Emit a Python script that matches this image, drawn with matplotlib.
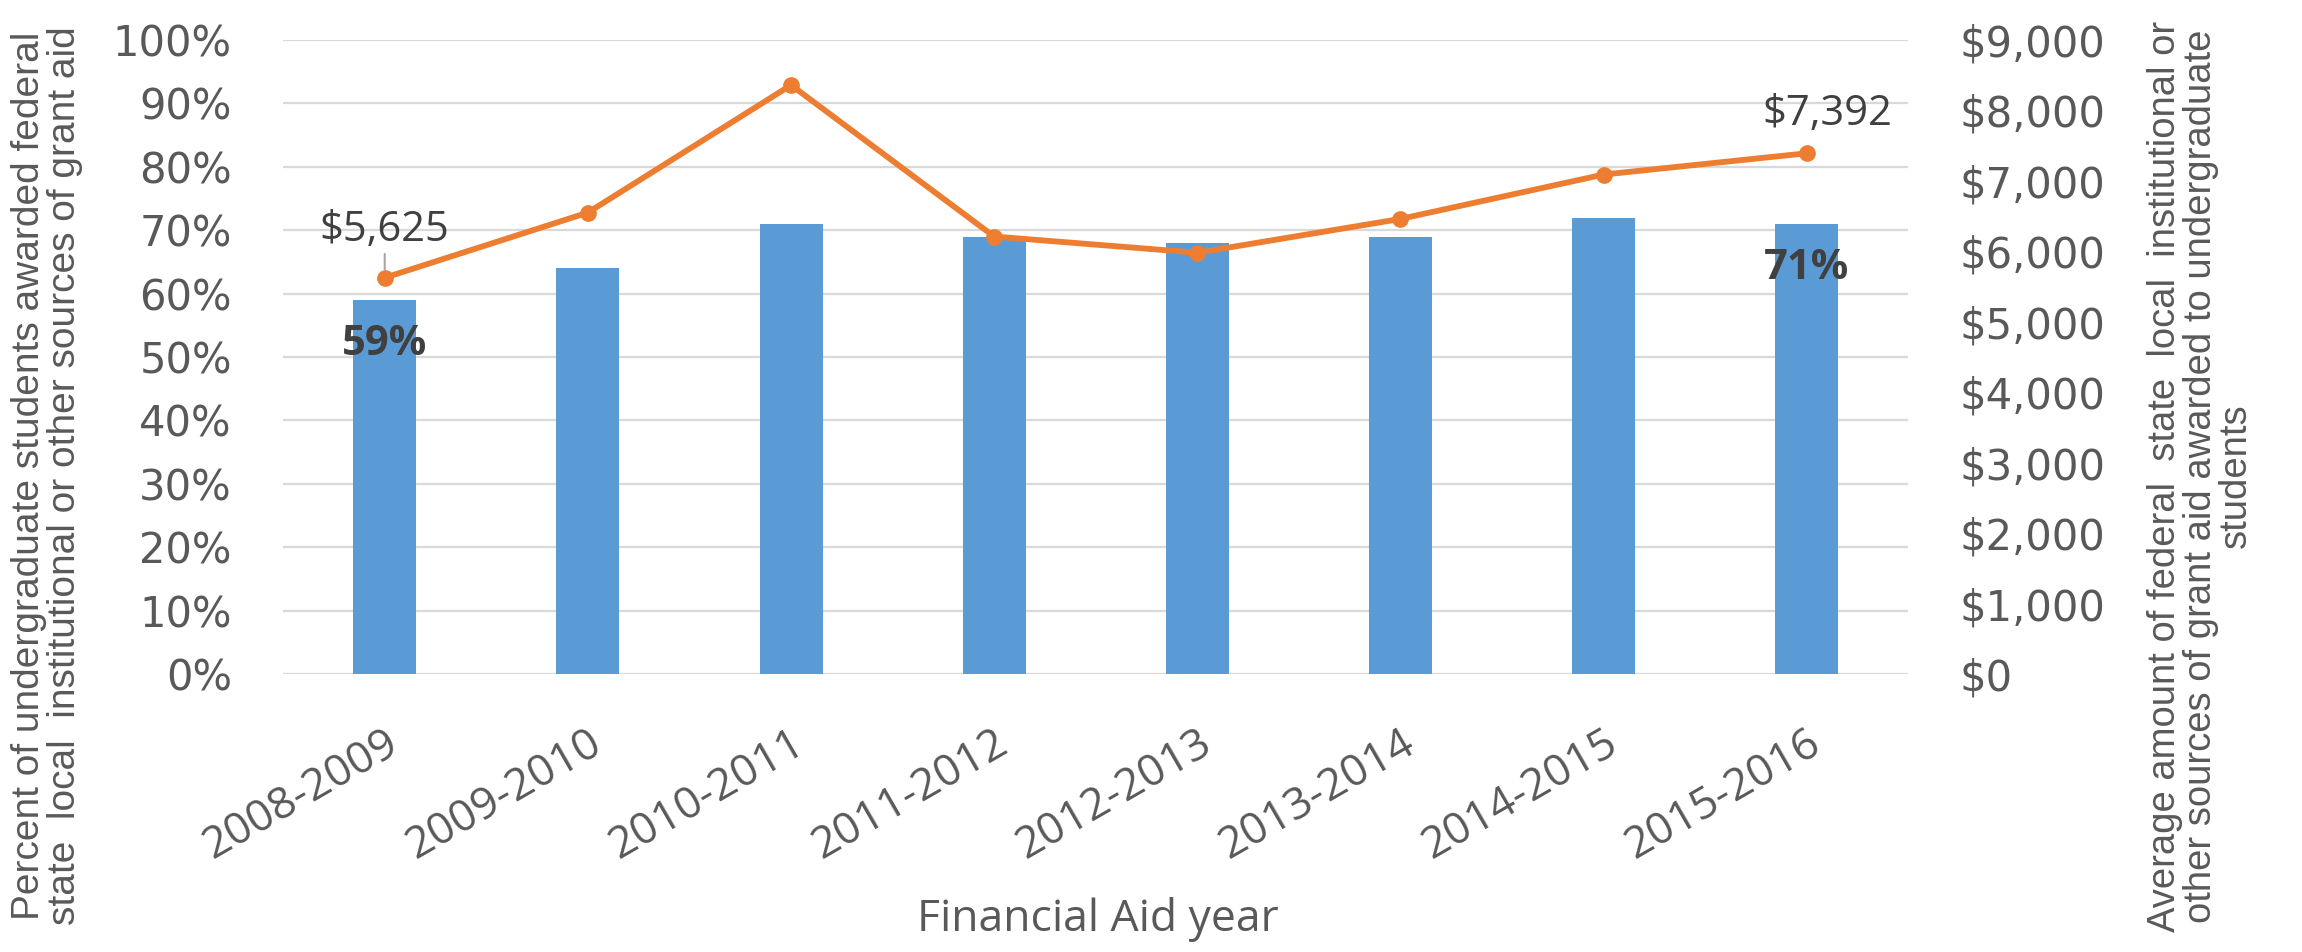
import matplotlib
matplotlib.use("Agg")
import matplotlib.pyplot as plt
from matplotlib.ticker import FuncFormatter, MultipleLocator

years = ["2008-2009", "2009-2010", "2010-2011", "2011-2012",
         "2012-2013", "2013-2014", "2014-2015", "2015-2016"]
pct_awarded = [59, 64, 71, 69, 68, 69, 72, 71]
avg_amount = [5625, 6550, 8360, 6210, 5980, 6460, 7090, 7392]

BAR_COLOR = "#5B9BD5"
LINE_COLOR = "#ED7D31"
GRID_COLOR = "#D9D9D9"
TEXT_COLOR = "#595959"
LABEL_COLOR = "#404040"

plt.rcParams["font.family"] = ["DejaVu Sans"]
label_font = ["Open Sans", "DejaVu Sans"]
title_font = ["Liberation Sans", "DejaVu Sans"]

fig = plt.figure(figsize=(23.02, 9.52), dpi=100)
ax = fig.add_axes([0.123, 0.292, 0.706, 0.666])
ax2 = ax.twinx()

x = list(range(len(years)))
ax.bar(x, pct_awarded, width=0.31, color=BAR_COLOR, zorder=2)
ax.set_ylim(0, 100)
ax.set_xlim(-0.5, len(years) - 0.5)
ax.yaxis.set_major_locator(MultipleLocator(10))
ax.yaxis.set_major_formatter(FuncFormatter(lambda v, p: f"{v:.0f}%"))
ax.grid(axis="y", color=GRID_COLOR, linewidth=1.6, zorder=0)
ax.set_axisbelow(True)

ax2.plot(x, avg_amount, color=LINE_COLOR, linewidth=4.2, marker="o",
         markersize=11, zorder=3)
ax2.set_ylim(0, 9000)
ax2.yaxis.set_major_locator(MultipleLocator(1000))
ax2.yaxis.set_major_formatter(FuncFormatter(lambda v, p: f"${v:,.0f}"))

for a in (ax, ax2):
    for s in a.spines.values():
        s.set_visible(False)
    a.tick_params(axis="both", length=0, labelsize=30, labelcolor=TEXT_COLOR)

ax.tick_params(axis="y", pad=37)
ax2.tick_params(axis="y", pad=37)
ax.set_xticks(x)
ax.set_xticklabels(years, rotation=30, ha="right", va="top",
                   rotation_mode="anchor", fontsize=32, family=label_font)
ax.tick_params(axis="x", pad=34)

# data labels
for i in (0, 7):
    ax.text(i, pct_awarded[i] - 7, f"{pct_awarded[i]}%", ha="center", va="center",
            fontsize=30, fontweight="bold", color=LABEL_COLOR, family=label_font)
ax2.annotate(f"${avg_amount[0]:,}", xy=(0, avg_amount[0]), xytext=(0, 6300),
             ha="center", va="center", fontsize=30, color=LABEL_COLOR,
             family=label_font,
             arrowprops=dict(arrowstyle="-", color="#A6A6A6", lw=1.5,
                             shrinkA=0, shrinkB=6))
ax2.text(7.1, 7950, f"${avg_amount[7]:,}", ha="center", va="center",
         fontsize=30, color=LABEL_COLOR, family=label_font)

# axis titles
fig.text(0.477, 0.034, "Financial Aid year", ha="center", va="center",
         fontsize=32, color=TEXT_COLOR, family=label_font)
fig.text(0.0205, 0.5, "Percent of undergraduate students awarded federal\n"
         "state  local  institutional or other sources of grant aid",
         rotation=90, ha="center", va="center", fontsize=28, color=TEXT_COLOR,
         family=title_font, linespacing=0.98)
fig.text(0.956, 0.5, "Average amount of federal  state  local  institutional or\n"
         "other sources of grant aid awarded to undergraduate\nstudents",
         rotation=90, ha="center", va="center", multialignment="center",
         fontsize=27.5, color=TEXT_COLOR, family=title_font, linespacing=0.98)

fig.savefig("out.png", dpi=100, facecolor="white")
